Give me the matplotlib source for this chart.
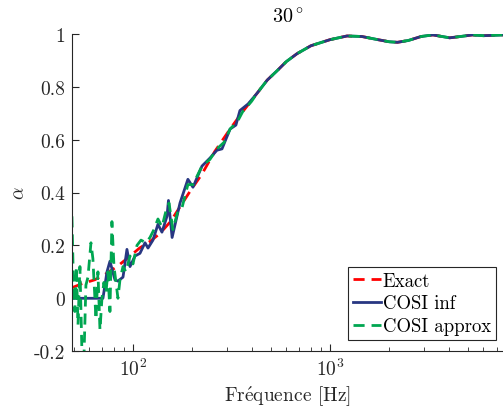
import matplotlib
matplotlib.use("Agg")
import matplotlib.pyplot as plt

plt.rcParams['font.family'] = ['cmr10', 'DejaVu Serif']
plt.rcParams['mathtext.fontset'] = 'cm'
plt.rcParams['axes.formatter.use_mathtext'] = True

# frequencies [Hz] and absorption
# smooth high-frequency part, shared by the three curves
freq_hi = [480, 538, 600, 680, 800, 1000, 1220, 1450, 1750, 2000,
           2200, 2500, 2900, 3330, 3700, 4050, 4600, 5280, 6000, 7000, 7600]
alpha_hi = [0.825, 0.860, 0.895, 0.925, 0.955, 0.978, 0.992,
            0.990, 0.978, 0.970, 0.968, 0.975, 0.990, 0.996, 0.990, 0.985, 0.990, 0.996,
            0.993, 0.995, 0.996]

# Exact
freq_exact = [49, 55, 64, 72, 83, 95, 108, 122, 137, 155, 173, 195, 224, 260, 311, 360, 426]
alpha_exact = [0.040, 0.055, 0.070, 0.090, 0.120, 0.155, 0.190, 0.215, 0.245, 0.290,
               0.345, 0.405, 0.470, 0.555, 0.640, 0.705, 0.775]

# COSI inf
freq_inf = [49, 60, 70.4, 73.8, 76.4, 81.0, 83.9, 89.0, 93.2, 96.6, 102.4, 108.5, 115.1,
            119.2, 126.3, 133.9, 140.3, 148.8, 151.4, 158, 173.2, 190.0, 201.6, 224.0, 245.7,
            266.8, 283, 311, 333, 349, 384, 426]
alpha_inf = [0.0, 0.0, 0.0, 0.10, 0.14, 0.07, 0.065, 0.08, 0.185, 0.12, 0.16, 0.17, 0.21,
             0.19, 0.22, 0.28, 0.25, 0.31, 0.37, 0.23, 0.36, 0.45, 0.42, 0.50, 0.53,
             0.56, 0.565, 0.64, 0.655, 0.71, 0.735, 0.775]

# COSI approx
freq_app = [49.0, 49.9, 50.7, 51.6, 52.6, 53.8, 55.1, 56.4, 57.7, 59.1, 61.2, 62.6, 64.9,
            66.4, 68.0, 69.6, 71.2, 72.9, 74.6, 76.4, 78.2, 80.1, 82.0, 83.9, 85.9, 89.0,
            92.1, 96.6, 100, 104.8, 109.8, 116.4, 122, 127.8, 133.9, 140.3, 147, 152.4,
            159.5, 169, 177, 190, 201.6, 224, 245.7, 266.8, 290, 311, 340, 360, 400, 426]
alpha_app = [0.31, 0.05, -0.05, 0.12, -0.10, 0.12, -0.21, -0.22, 0.05, 0.08, 0.21, 0.15,
             -0.08, 0.10, -0.12, 0.0, 0.06, 0.02, 0.10, -0.05, 0.29, 0.12, 0.06, 0.0,
             0.07, 0.12, 0.10, 0.16, 0.13, 0.20, 0.22, 0.21, 0.23, 0.26, 0.30, 0.27, 0.33,
             0.36, 0.26, 0.33, 0.34, 0.43, 0.43, 0.50, 0.525, 0.565, 0.59, 0.64, 0.67,
             0.705, 0.745, 0.775]

yticks = [-0.2, 0, 0.2, 0.4, 0.6, 0.8, 1]
ytick_labels = ['-0.2', '0', '0.2', '0.4', '0.6', '0.8', '1']

text_col = '#262626'
red = '#ff0000'
blue = '#283782'
green = '#00a651'

fig = plt.figure(figsize=(5.03, 4.10), dpi=100)
ax = fig.add_axes([0.143, 0.141, 0.857, 0.774])

ax.plot(freq_exact + freq_hi, alpha_exact + alpha_hi, '--', color=red, lw=2.0,
        dashes=(4, 2.5), label='Exact')
ax.plot(freq_inf + freq_hi, alpha_inf + alpha_hi, '-', color=blue, lw=2.0,
        label='COSI inf')
ax.plot(freq_app + freq_hi, alpha_app + alpha_hi, '--', color=green, lw=2.0,
        dashes=(4, 2.5), label='COSI approx')

ax.set_xscale('log')
ax.set_xlim(49.0, 7550)
ax.set_ylim(-0.2, 1)
ax.set_yticks(yticks)
ax.set_yticklabels(ytick_labels)
ax.set_xticks([100, 1000])
ax.set_xticklabels([r'$10^2$', r'$10^3$'])

for s in ['top', 'right']:
    ax.spines[s].set_visible(False)
for s in ['left', 'bottom']:
    ax.spines[s].set_color(text_col)
    ax.spines[s].set_linewidth(0.8)

ax.tick_params(which='major', direction='in', length=5, width=0.8, colors=text_col,
               labelsize=14, pad=5)
ax.tick_params(which='minor', direction='in', length=3, width=0.6, colors=text_col)

ax.set_xlabel(r'Fr$\mathrm{\acute{e}}$quence [Hz]', fontsize=14, color=text_col, labelpad=3)
ax.set_ylabel(r'$\alpha$', fontsize=14, color=text_col, labelpad=4)
ax.set_title(r'$30^\circ$', fontsize=14.5, color='black', pad=9)

leg = ax.legend(loc='lower right', bbox_to_anchor=(0.983, 0.036), borderaxespad=0,
                fontsize=13.5, fancybox=False, framealpha=1, edgecolor=text_col,
                handlelength=1.5, handletextpad=0.1, labelspacing=0.25, borderpad=0.25)
leg.get_frame().set_linewidth(0.8)

fig.savefig('out.png', dpi=100)
